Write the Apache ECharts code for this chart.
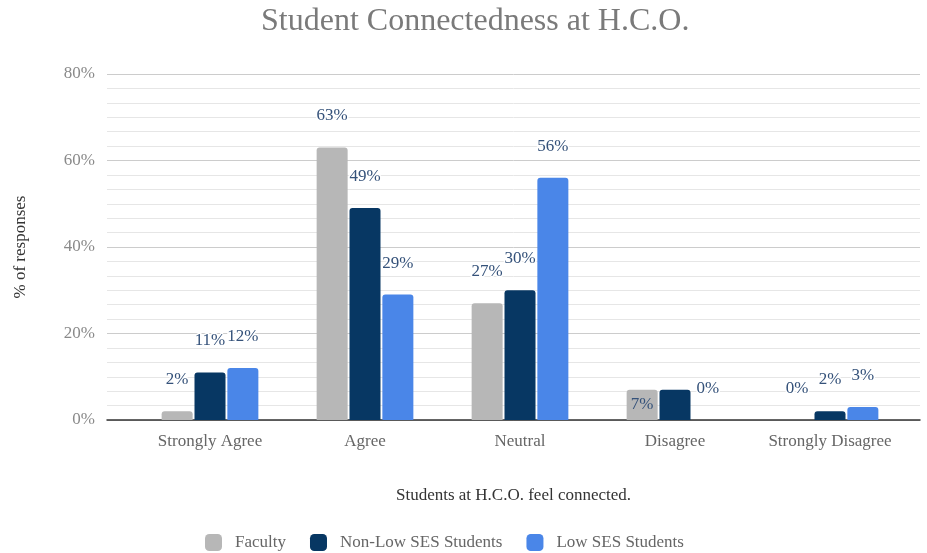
<!DOCTYPE html>
<html>
<head>
<meta charset="utf-8">
<script src="https://cdn.jsdelivr.net/npm/echarts@6/dist/echarts.min.js"></script>
<style>
  html, body { margin: 0; padding: 0; background: #fff; }
  #chart { width: 927px; height: 553px; }
</style>
</head>
<body>
<div id="chart"></div>
<script>
// Survey responses, percent of each group
const categories = ['Strongly Agree', 'Agree', 'Neutral', 'Disagree', 'Strongly Disagree'];
const faculty = [2, 63, 27, 7, 0];
const nonLowSes = [11, 49, 30, 7, 2];
const lowSes = [12, 29, 56, 0, 3];
const yMin = 0, yMax = 80, yStep = 20;

const FONT = '"Liberation Serif", "DejaVu Serif", serif';
const labelColor = '#35527a';

const chart = echarts.init(document.getElementById('chart'), null, { renderer: 'canvas' });

const baseLabel = {
  show: true,
  position: 'top',
  distance: 23,
  formatter: p => p.value + '%',
  fontFamily: FONT,
  fontSize: 17,
  color: labelColor,
  textBorderColor: '#fff',
  textBorderWidth: 3
};

function bars(name, values, color, overrides) {
  return {
    name: name,
    type: 'bar',
    xAxisIndex: 1,
    yAxisIndex: 1,
    barWidth: 31,
    barGap: '6%',
    itemStyle: { color: color, borderRadius: [3, 3, 0, 0] },
    label: baseLabel,
    data: values.map((v, i) => overrides && overrides[i] ? Object.assign({ value: v }, overrides[i]) : v)
  };
}

const option = {
  animation: false,
  backgroundColor: '#fff',
  title: {
    text: 'Student Connectedness at H.C.O.',
    left: 256,
    top: 1,
    textStyle: { fontFamily: FONT, fontSize: 32, fontWeight: 'normal', color: '#7a7a7a' }
  },
  legend: {
    left: 200,
    top: 529,
    icon: 'roundRect',
    itemWidth: 17,
    itemHeight: 17,
    itemGap: 24,
    textStyle: { fontFamily: FONT, fontSize: 17, color: '#666', padding: [0, 0, 0, 8] },
    data: ['Faculty', 'Non-Low SES Students', 'Low SES Students']
  },
  grid: [
    { left: 107, right: 7, top: 74, bottom: 133 },
    { left: 132.5, right: 19.5, top: 74, bottom: 133 }
  ],
  xAxis: [
    {
      gridIndex: 0, type: 'value', min: 0, max: 1,
      axisLine: { show: true, lineStyle: { color: '#333', width: 1.5 } },
      axisTick: { show: false }, axisLabel: { show: false }, splitLine: { show: false },
      name: 'Students at H.C.O. feel connected.',
      nameLocation: 'middle',
      nameGap: 67,
      nameTextStyle: { fontFamily: FONT, fontSize: 17, color: '#333' }
    },
    {
      gridIndex: 1, type: 'category', data: categories,
      axisLine: { show: false }, axisTick: { show: false },
      axisLabel: { interval: 0, fontFamily: FONT, fontSize: 17, color: '#666', margin: 13 }
    }
  ],
  yAxis: [
    {
      gridIndex: 0, type: 'value', min: yMin, max: yMax, interval: yStep,
      axisLine: { show: false }, axisTick: { show: false },
      axisLabel: { formatter: '{value}%', fontFamily: FONT, fontSize: 17, color: '#8a8a8a', margin: 12 },
      splitLine: { lineStyle: { color: '#cccccc', width: 1 } },
      minorTick: { show: false, splitNumber: 6 },
      minorSplitLine: { show: true, lineStyle: { color: '#e6e6e6', width: 1 } },
      name: '% of responses',
      nameLocation: 'middle',
      nameGap: 78,
      nameRotate: 90,
      nameTextStyle: { fontFamily: FONT, fontSize: 17, color: '#333' }
    },
    {
      gridIndex: 1, type: 'value', min: yMin, max: yMax, interval: yStep,
      show: false, splitLine: { show: false }
    }
  ],
  series: [
    bars('Faculty', faculty, '#b7b7b7', { 3: { label: { position: 'inside', distance: 0, textBorderWidth: 0 } } }),
    bars('Non-Low SES Students', nonLowSes, '#073763', { 3: { label: { show: false } } }),
    bars('Low SES Students', lowSes, '#4a86e8')
  ]
};

chart.setOption(option);
</script>
</body>
</html>
